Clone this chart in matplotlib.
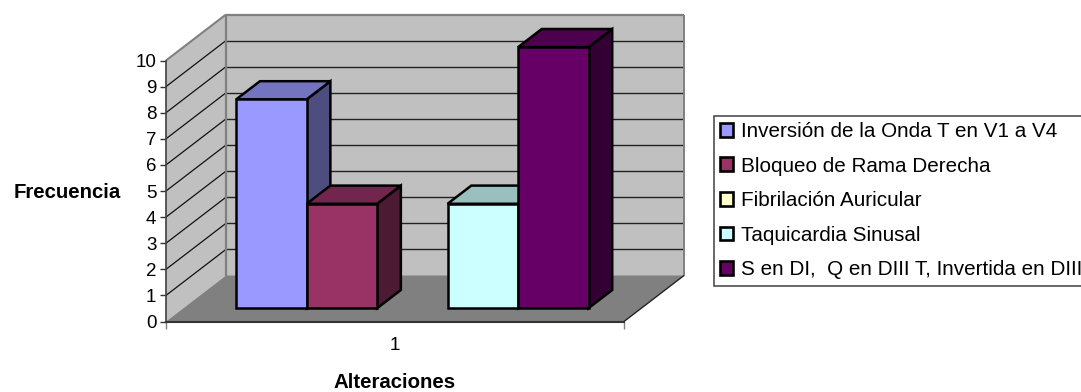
import matplotlib
matplotlib.use('Agg')
import matplotlib.pyplot as plt
from matplotlib.patches import Polygon, Patch

plt.rcParams['font.family'] = ['Liberation Sans', 'DejaVu Sans']

series = ['Inversión de la Onda T en V1 a V4', 'Bloqueo de Rama Derecha',
          'Fibrilación Auricular', 'Taquicardia Sinusal',
          'S en DI,  Q en DIII T, Invertida en DIII']
values = [8, 4, 0, 4, 10]
front_colors = ['#9999FF', '#993366', '#FFFFCC', '#CCFFFF', '#660066']
top_colors = ['#7373BF', '#73264D', '#BFBF99', '#99BFBF', '#4D004D']
side_colors = ['#4D4D80', '#4D1A33', '#808066', '#668080', '#330033']
yticks = list(range(0, 11))
category = '1'

W, H = 1081, 392
XMAX = 6.5          # floor width in bar widths
GAP = 0.75          # space before the first bar
DEPTH_X = 0.851     # shift of the back wall, in x units
DEPTH_Y = 1.762     # shift of the back wall, in y units
BAR_D0, BAR_D1 = 0.29, 0.685

def proj(x, y, d):
    # oblique projection: depth d runs from 0 (front) to 1 (back wall)
    return (x + d * DEPTH_X, y + d * DEPTH_Y)

def face(ax, pts, color, edge='none', lw=0, z=1):
    ax.add_patch(Polygon([proj(*p) for p in pts], closed=True, facecolor=color,
                         edgecolor=edge, linewidth=lw, joinstyle='miter',
                         clip_on=False, zorder=z))

def line(ax, a, b, color, lw, z=1.5):
    pa, pb = proj(*a), proj(*b)
    ax.plot([pa[0], pb[0]], [pa[1], pb[1]], color=color, lw=lw, clip_on=False,
            solid_capstyle='butt', zorder=z)

fig = plt.figure(figsize=(W / 100, H / 100), dpi=100, facecolor='white')
ax = fig.add_axes([166 / W, (H - 321.5) / H, 458 / W, 261 / H])
ax.set_xlim(0, XMAX)
ax.set_ylim(0, 10)
ax.patch.set_visible(False)

# walls and floor
ymax = yticks[-1]
face(ax, [(0, 0, 0), (0, ymax, 0), (0, ymax, 1), (0, 0, 1)], '#C0C0C0')
face(ax, [(0, 0, 1), (0, ymax, 1), (XMAX, ymax, 1), (XMAX, 0, 1)], '#C0C0C0')
face(ax, [(0, 0, 0), (XMAX, 0, 0), (XMAX, 0, 1), (0, 0, 1)], '#808080')

for v in yticks[1:-1]:
    line(ax, (0, v, 0), (0, v, 1), '#111111', 0.9)
    line(ax, (0, v, 1), (XMAX, v, 1), '#222222', 1.0)

# wall outline
line(ax, (0, ymax, 0), (0, ymax, 1), '#808080', 1.5)
line(ax, (0, ymax, 1), (XMAX, ymax, 1), '#808080', 1.6)
line(ax, (0, 0, 1), (0, ymax, 1), '#808080', 1.6)
line(ax, (XMAX, 0, 1), (XMAX, ymax, 1), '#808080', 1.4)
line(ax, (XMAX, 0, 0), (XMAX, 0, 1), '#222222', 1.0)

# bars, left to right so each one covers the side of the previous one
for i, v in enumerate(values):
    if v == 0:
        continue
    x0, x1 = GAP + i, GAP + i + 1
    face(ax, [(x1, 0, BAR_D0), (x1, v, BAR_D0), (x1, v, BAR_D1), (x1, 0, BAR_D1)],
         side_colors[i], 'black', 1.8, 3 + i)
    face(ax, [(x0, v, BAR_D0), (x1, v, BAR_D0), (x1, v, BAR_D1), (x0, v, BAR_D1)],
         top_colors[i], 'black', 1.8, 3 + i)
    face(ax, [(x0, 0, BAR_D0), (x1, 0, BAR_D0), (x1, v, BAR_D0), (x0, v, BAR_D0)],
         front_colors[i], 'black', 1.8, 3 + i)

# axes
for s in ['top', 'right']:
    ax.spines[s].set_visible(False)
ax.spines['left'].set_color('#404040')
ax.spines['left'].set_linewidth(1.2)
ax.spines['bottom'].set_color('#333333')
ax.spines['bottom'].set_linewidth(1.5)
ax.set_yticks(yticks)
ax.tick_params(axis='y', length=4, width=1, color='#333333', labelsize=13.5, pad=3)
ax.set_xticks([0, XMAX])
ax.set_xticklabels(['', ''])
ax.tick_params(axis='x', length=5, width=1, color='#808080')
ax.set_xticks([XMAX / 2], minor=True)
ax.set_xticklabels([category], minor=True)
ax.tick_params(axis='x', which='minor', length=0, labelsize=13.5, pad=11)

fig.text(67 / W, 1 - 192 / H, 'Frecuencia', fontsize=14.7, fontweight='bold',
         ha='center', va='center')
fig.text(395 / W, 1 - 382.5 / H, 'Alteraciones', fontsize=14.7, fontweight='bold',
         ha='center', va='center')

# legend runs past the right edge of the figure
handles = [Patch(facecolor=c, edgecolor='black', linewidth=1.9) for c in front_colors]
leg = fig.legend(handles, series, loc='upper left',
                 bbox_to_anchor=(713.5 / W, 1 - 116 / H), bbox_transform=fig.transFigure,
                 fontsize=14.9, frameon=True, fancybox=False, framealpha=1,
                 edgecolor='#404040', borderaxespad=0, borderpad=0.3,
                 handlelength=0.66, handleheight=0.66, handletextpad=0.38,
                 labelspacing=0.75)
leg.get_frame().set_linewidth(1.1)

fig.savefig('out.png', dpi=100, facecolor='white')
